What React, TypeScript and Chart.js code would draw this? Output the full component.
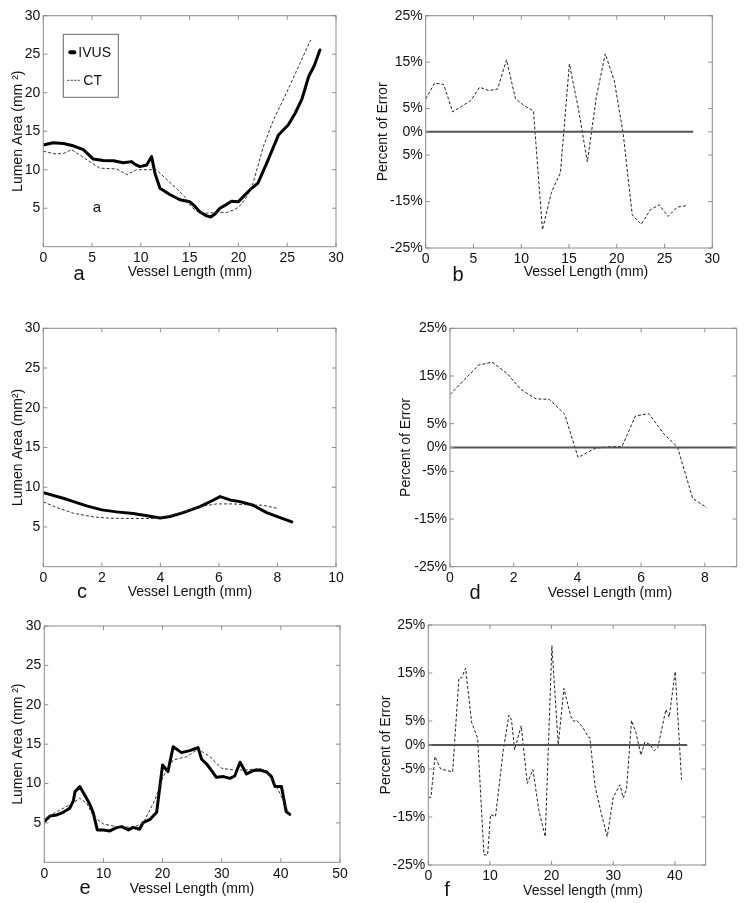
import React, { useEffect, useRef } from "react";
import { Chart, registerables } from "chart.js";
Chart.register(...registerables);

const FONT = "'Liberation Sans', Arial, sans-serif";

// ---------- Panel a: lumen area (mm^2) vs vessel length (mm) ----------
const aIvusX = [0, 1, 2.05, 3.07, 4.1, 5.1, 6.15, 7.2, 8.2, 9.05, 9.4, 9.9, 10.6, 11.1, 11.45, 11.96, 13, 14, 15, 15.5, 16.06, 16.74, 17.15, 17.6, 18.1, 18.8, 19.3, 20, 20.5, 21.2, 22, 22.9, 24.1, 25.1, 25.8, 26.5, 27.2, 27.8, 28.35];
const aIvusY = [13.2, 13.5, 13.4, 13.1, 12.6, 11.4, 11.2, 11.15, 10.9, 11.05, 10.7, 10.4, 10.6, 11.7, 9.5, 7.6, 6.75, 6.1, 5.85, 5.3, 4.5, 4.0, 3.85, 4.25, 5.0, 5.5, 5.9, 5.85, 6.5, 7.4, 8.25, 10.85, 14.5, 15.8, 17.3, 19.15, 22.1, 23.6, 25.55];
const aCtX = [0, 1.2, 2.05, 2.9, 3.76, 4.8, 5.8, 7.5, 8.6, 9.56, 10.6, 11.6, 12.5, 13.7, 14.5, 15.2, 15.9, 16.7, 17.8, 18.8, 19.6, 20.15, 20.85, 21.5, 22.55, 23.6, 24.9, 26.3, 27.4];
const aCtY = [12.4, 12.05, 12.1, 12.6, 11.9, 11.0, 10.2, 10.1, 9.35, 10.0, 10.0, 10.0, 8.9, 7.5, 6.5, 5.15, 4.45, 4.35, 4.45, 4.45, 4.8, 5.3, 6.45, 8.25, 13.0, 16.5, 19.9, 23.8, 26.85];

// ---------- Panel b: percent of error ----------
const bX = [0, 0.94, 1.88, 2.82, 3.76, 4.7, 5.64, 6.58, 7.52, 8.46, 9.4, 10.34, 11.28, 12.22, 13.16, 14.1, 15.04, 15.98, 16.92, 17.86, 18.8, 19.74, 20.68, 21.62, 22.56, 23.5, 24.44, 25.38, 26.32, 27.26];
const bY = [7.1, 10.5, 10.2, 4.3, 5.5, 6.7, 9.6, 8.9, 9.2, 15.5, 7.1, 5.6, 4.5, -21.1, -13, -8.8, 14.6, 5, -6.5, 7.5, 16.8, 11, -0.5, -17.9, -19.9, -16.8, -15.7, -18.2, -16.2, -15.9];
const bZeroX = [0, 28];

// ---------- Panel c ----------
const cIvusX = [0, 0.8, 1.48, 2.0, 2.5, 3.07, 3.59, 3.99, 4.33, 4.78, 5.35, 5.8, 6.04, 6.38, 6.72, 7.17, 7.63, 8.09, 8.49];
const cIvusY = [9.32, 8.48, 7.65, 7.15, 6.9, 6.69, 6.39, 6.14, 6.31, 6.81, 7.56, 8.36, 8.82, 8.4, 8.19, 7.73, 6.81, 6.18, 5.64];
const cCtX = [0, 0.46, 1.03, 1.71, 2.28, 3.07, 3.76, 4.2, 4.78, 5.35, 5.92, 6.49, 7.06, 7.52, 8.03];
const cCtY = [8.15, 7.44, 6.73, 6.27, 6.1, 6.06, 6.06, 6.31, 6.9, 7.56, 7.9, 7.9, 7.77, 7.73, 7.31];

// ---------- Panel d ----------
const dX = [0, 0.45, 0.9, 1.32, 1.8, 2.22, 2.7, 3.12, 3.6, 4.02, 4.55, 4.97, 5.4, 5.82, 6.24, 6.72, 7.14, 7.62, 8.06];
const dY = [11.1, 14.2, 17.3, 17.9, 15.5, 12.2, 10.2, 10.1, 7.0, -2.1, -0.2, 0.15, 0.2, 6.6, 7.1, 2.8, 0.1, -10.7, -12.6];
const dZeroX = [0, 9];

// ---------- Panel e ----------
const eIvusX = [0, 0.96, 2.1, 3.2, 4.3, 4.9, 5.2, 6.0, 6.9, 7.7, 8.3, 8.96, 10, 11.1, 12.2, 13.1, 14.2, 15, 16.1, 16.7, 17.9, 19, 20, 20.9, 21.8, 23.2, 24.6, 26.0, 26.6, 27.45, 28, 29.1, 30.3, 31.4, 32.2, 33.1, 34.2, 35.3, 36.5, 37.6, 38.4, 39, 40.1, 40.9, 41.5];
const eIvusY = [5.16, 5.88, 6.01, 6.35, 6.86, 7.79, 8.97, 9.61, 8.46, 7.36, 6.22, 4.11, 4.11, 3.98, 4.4, 4.53, 4.11, 4.44, 4.19, 5.04, 5.46, 6.35, 12.36, 11.51, 14.68, 13.92, 14.18, 14.56, 13.08, 12.48, 11.93, 10.79, 10.88, 10.66, 10.96, 12.7, 11.21, 11.64, 11.72, 11.47, 10.88, 9.61, 9.61, 6.43, 6.09];
const eCtX = [0, 2.1, 4.3, 6, 7.2, 8.3, 10, 12.2, 15, 16.7, 18.7, 20.1, 21.8, 24.1, 26, 28, 30, 32, 34.2, 36.5, 38.2, 39.85, 41.1];
const eCtY = [5.46, 6.43, 7.28, 8.13, 7.49, 5.8, 4.87, 4.53, 4.44, 4.95, 7.91, 10.88, 12.99, 13.42, 14.39, 13.42, 11.93, 11.72, 11.72, 11.93, 10.88, 8.76, 6.64];

// ---------- Panel f ----------
const fX = [0, 0.43, 1.08, 2.0, 3.95, 4.97, 5.41, 6.05, 7.03, 8.0, 9.03, 9.62, 10.1, 10.9, 12.16, 13.08, 13.5, 14.0, 15.08, 16.05, 16.97, 17.95, 18.97, 20.05, 21.08, 22.0, 23.08, 23.62, 24.05, 25.03, 26.0, 26.2, 27.03, 28.05, 29.03, 30.0, 31.08, 31.62, 32.16, 32.97, 33.68, 34.49, 35.14, 35.95, 36.65, 37.24, 38.54, 39.08, 40.05, 41.08];
const fY = [-10.9, -10.9, -2.4, -5.0, -5.6, 14.0, 14.0, 16.0, 4.7, 1.4, -22.9, -22.9, -14.5, -14.9, -1.2, 6.25, 5.2, -1.0, 4.0, -8.0, -5.1, -13.7, -19.1, 20.7, 0, 11.8, 6.1, 4.9, 5.2, 3.7, 1.6, 1.6, -8.5, -14.2, -19.1, -10.9, -8.3, -11.0, -9.2, 5.1, 2.6, -2.1, 0.6, 0.1, -1.2, -0.5, 7.4, 5.8, 15.3, -7.2];
const fZeroX = [0, 42];

// ---------- Tick values / labels ----------
const areaYTicks = [5, 10, 15, 20, 25, 30];
const areaYLabels = ["5", "10", "15", "20", "25", "30"];
const errYTicks = [-25, -15, -5, 0, 5, 15, 25];
const errYLabelsB = ["-25%", "-15%", "5%", "0%", "5%", "15%", "25%"];
const errYLabels = ["-25%", "-15%", "-5%", "0%", "5%", "15%", "25%"];
const aXTicks = [0, 5, 10, 15, 20, 25, 30];
const cXTicks = [0, 2, 4, 6, 8, 10];
const dXTicks = [0, 2, 4, 6, 8];
const eXTicks = [0, 10, 20, 30, 40, 50];
const fXTicks = [0, 10, 20, 30, 40];

const zip = (xs: number[], ys: number[]) => xs.map((x, i) => ({ x, y: ys[i] }));
const zeros = (xs: number[]) => xs.map((x) => ({ x, y: 0 }));

const ivusDs = (xs: number[], ys: number[]) => ({
  label: "IVUS",
  data: zip(xs, ys),
  showLine: true,
  borderColor: "#000",
  borderWidth: 3,
  pointRadius: 0,
  borderJoinStyle: "round",
  borderCapStyle: "round",
});
const ctDs = (xs: number[], ys: number[]) => ({
  label: "CT",
  data: zip(xs, ys),
  showLine: true,
  borderColor: "#333",
  borderWidth: 1,
  borderDash: [3, 2],
  pointRadius: 0,
});
const errDs = (xs: number[], ys: number[]) => ({
  label: "Percent of Error",
  data: zip(xs, ys),
  showLine: true,
  borderColor: "#222",
  borderWidth: 1,
  borderDash: [3, 2],
  pointRadius: 0,
});
const zeroDs = (xs: number[]) => ({
  label: "zero",
  data: zeros(xs),
  showLine: true,
  borderColor: "#555",
  borderWidth: 2,
  pointRadius: 0,
});

type Rect = { l: number; r: number; t: number; b: number };
type PanelDef = {
  cx: number; cy: number; cw: number; ch: number;
  plot: Rect;
  xMin: number; xMax: number; xTicks: number[];
  yMin: number; yMax: number; yTicks: number[]; yLabels: string[];
  datasets: any[];
  yTitle: string; yTitleX: number;
  xTitle: string; xTitleX: number; xTitleY: number;
  letter: string; letterX: number; letterY: number;
  legend?: boolean;
  inner?: { text: string; x: number; y: number };
};

const panels: PanelDef[] = [
  {
    cx: 0, cy: 0, cw: 360, ch: 290,
    plot: { l: 43.3, r: 336, t: 15.7, b: 246.7 },
    xMin: 0, xMax: 30, xTicks: aXTicks,
    yMin: 0, yMax: 30, yTicks: areaYTicks, yLabels: areaYLabels,
    datasets: [ctDs(aCtX, aCtY), ivusDs(aIvusX, aIvusY)],
    yTitle: "Lumen Area (mm ²)", yTitleX: 18,
    xTitle: "Vessel Length (mm)", xTitleX: 190, xTitleY: 276,
    letter: "a", letterX: 79, letterY: 280,
    legend: true,
    inner: { text: "a", x: 97, y: 212 },
  },
  {
    cx: 360, cy: 0, cw: 385, ch: 290,
    plot: { l: 425.7, r: 712.3, t: 15.7, b: 248 },
    xMin: 0, xMax: 30, xTicks: aXTicks,
    yMin: -25, yMax: 25, yTicks: errYTicks, yLabels: errYLabelsB,
    datasets: [zeroDs(bZeroX), errDs(bX, bY)],
    yTitle: "Percent of Error", yTitleX: 383,
    xTitle: "Vessel Length (mm)", xTitleX: 586, xTitleY: 276,
    letter: "b", letterX: 458, letterY: 281,
  },
  {
    cx: 0, cy: 290, cw: 360, ch: 310,
    plot: { l: 43.3, r: 336, t: 328.3, b: 566.7 },
    xMin: 0, xMax: 10, xTicks: cXTicks,
    yMin: 0, yMax: 30, yTicks: areaYTicks, yLabels: areaYLabels,
    datasets: [ctDs(cCtX, cCtY), ivusDs(cIvusX, cIvusY)],
    yTitle: "Lumen Area (mm²)", yTitleX: 18,
    xTitle: "Vessel Length (mm)", xTitleX: 190, xTitleY: 596,
    letter: "c", letterX: 82, letterY: 598,
  },
  {
    cx: 360, cy: 290, cw: 385, ch: 310,
    plot: { l: 450, r: 736.7, t: 328.3, b: 566.7 },
    xMin: 0, xMax: 9, xTicks: dXTicks,
    yMin: -25, yMax: 25, yTicks: errYTicks, yLabels: errYLabels,
    datasets: [zeroDs(dZeroX), errDs(dX, dY)],
    yTitle: "Percent of Error", yTitleX: 406,
    xTitle: "Vessel Length (mm)", xTitleX: 610, xTitleY: 597,
    letter: "d", letterX: 475, letterY: 599,
  },
  {
    cx: 0, cy: 600, cw: 360, ch: 303,
    plot: { l: 44.3, r: 340, t: 626, b: 862.3 },
    xMin: 0, xMax: 50, xTicks: eXTicks,
    yMin: 0, yMax: 30, yTicks: areaYTicks, yLabels: areaYLabels,
    datasets: [ctDs(eCtX, eCtY), ivusDs(eIvusX, eIvusY)],
    yTitle: "Lumen Area (mm ²)", yTitleX: 18,
    xTitle: "Vessel Length (mm)", xTitleX: 192, xTitleY: 893,
    letter: "e", letterX: 85, letterY: 894,
  },
  {
    cx: 360, cy: 600, cw: 385, ch: 303,
    plot: { l: 428.3, r: 705.7, t: 625, b: 865 },
    xMin: 0, xMax: 45, xTicks: fXTicks,
    yMin: -25, yMax: 25, yTicks: errYTicks, yLabels: errYLabels,
    datasets: [zeroDs(fZeroX), errDs(fX, fY)],
    yTitle: "Percent of Error", yTitleX: 386,
    xTitle: "Vessel length (mm)", xTitleX: 583, xTitleY: 895,
    letter: "f", letterX: 447, letterY: 896,
  },
];

function makeConfig(def: PanelDef): any {
  const yAxisW = def.plot.l - def.cx;
  const xAxisH = def.cy + def.ch - def.plot.b;
  const framePlugin = {
    id: "frame",
    afterDraw(chart: any) {
      const ctx = chart.ctx;
      const { left, right, top, bottom } = chart.chartArea;
      const xs = chart.scales.x;
      const ys = chart.scales.y;
      ctx.save();
      // axes box
      ctx.strokeStyle = "#8c8c8c";
      ctx.lineWidth = 1;
      ctx.setLineDash([]);
      ctx.strokeRect(left, top, right - left, bottom - top);
      // inward ticks
      const tl = 4;
      ctx.beginPath();
      for (const v of def.xTicks) {
        const px = xs.getPixelForValue(v);
        ctx.moveTo(px, bottom); ctx.lineTo(px, bottom - tl);
        ctx.moveTo(px, top); ctx.lineTo(px, top + tl);
      }
      for (const v of def.yTicks) {
        const py = ys.getPixelForValue(v);
        ctx.moveTo(left, py); ctx.lineTo(left + tl, py);
        ctx.moveTo(right, py); ctx.lineTo(right - tl, py);
      }
      ctx.stroke();

      ctx.fillStyle = "#111";
      // x title
      ctx.font = `14px ${FONT}`;
      ctx.textAlign = "center";
      ctx.textBaseline = "alphabetic";
      ctx.fillText(def.xTitle, def.xTitleX - def.cx, def.xTitleY - def.cy);
      // panel letter
      ctx.font = `20px ${FONT}`;
      ctx.fillText(def.letter, def.letterX - def.cx, def.letterY - def.cy);
      // y title
      ctx.save();
      ctx.font = `14px ${FONT}`;
      ctx.translate(def.yTitleX - def.cx, (top + bottom) / 2);
      ctx.rotate(-Math.PI / 2);
      ctx.textAlign = "center";
      ctx.textBaseline = "middle";
      ctx.fillText(def.yTitle, 0, 0);
      ctx.restore();

      if (def.inner) {
        ctx.font = `15px ${FONT}`;
        ctx.textAlign = "center";
        ctx.textBaseline = "alphabetic";
        ctx.fillText(def.inner.text, def.inner.x - def.cx, def.inner.y - def.cy);
      }

      if (def.legend) {
        const bx = left + 20, by = top + 18.6, bw = 55, bh = 63;
        ctx.fillStyle = "#fff";
        ctx.fillRect(bx, by, bw, bh);
        ctx.strokeStyle = "#666";
        ctx.lineWidth = 1;
        ctx.strokeRect(bx, by, bw, bh);
        // IVUS
        ctx.strokeStyle = "#000";
        ctx.lineWidth = 4;
        ctx.lineCap = "round";
        ctx.beginPath();
        ctx.moveTo(bx + 7, by + 18); ctx.lineTo(bx + 11, by + 18);
        ctx.stroke();
        // CT
        ctx.lineCap = "butt";
        ctx.lineWidth = 1;
        ctx.strokeStyle = "#333";
        ctx.setLineDash([2, 1.5]);
        ctx.beginPath();
        ctx.moveTo(bx + 4, by + 46); ctx.lineTo(bx + 17, by + 46);
        ctx.stroke();
        ctx.setLineDash([]);
        ctx.fillStyle = "#111";
        ctx.font = `14px ${FONT}`;
        ctx.textAlign = "left";
        ctx.textBaseline = "alphabetic";
        ctx.fillText("IVUS", bx + 15, by + 23);
        ctx.fillText("CT", bx + 20, by + 51);
      }
      ctx.restore();
    },
  };

  return {
    type: "scatter",
    data: { datasets: def.datasets },
    options: {
      responsive: false,
      animation: false,
      devicePixelRatio: 1,
      layout: {
        padding: { left: 0, top: def.plot.t - def.cy, right: def.cx + def.cw - def.plot.r, bottom: 0 },
      },
      plugins: { legend: { display: false }, tooltip: { enabled: false } },
      elements: { line: { tension: 0 } },
      scales: {
        x: {
          type: "linear",
          min: def.xMin,
          max: def.xMax,
          afterBuildTicks: (s: any) => { s.ticks = def.xTicks.map((v) => ({ value: v })); },
          afterFit: (s: any) => { s.height = xAxisH; },
          grid: { display: false, drawTicks: false },
          border: { display: false },
          ticks: {
            autoSkip: false, maxRotation: 0, padding: 3, color: "#111",
            font: { family: FONT, size: 14 },
            callback: (v: any) => String(v),
          },
        },
        y: {
          type: "linear",
          min: def.yMin,
          max: def.yMax,
          afterBuildTicks: (s: any) => { s.ticks = def.yTicks.map((v) => ({ value: v })); },
          afterFit: (s: any) => { s.width = yAxisW; },
          grid: { display: false, drawTicks: false },
          border: { display: false },
          ticks: {
            autoSkip: false, padding: 3, color: "#111",
            font: { family: FONT, size: 14 },
            callback: (_v: any, i: number) => def.yLabels[i],
          },
        },
      },
    },
    plugins: [framePlugin],
  };
}

function Panel({ def }: { def: PanelDef }) {
  const ref = useRef<HTMLCanvasElement>(null);
  useEffect(() => {
    const c = ref.current;
    if (!c) return;
    const chart = new Chart(c, makeConfig(def));
    return () => chart.destroy();
  }, [def]);
  return (
    <canvas
      ref={ref}
      width={def.cw}
      height={def.ch}
      style={{ position: "absolute", left: def.cx, top: def.cy, width: def.cw, height: def.ch }}
    />
  );
}

export default function App() {
  return (
    <div style={{ position: "absolute", left: 0, top: 0, width: 745, height: 903, background: "#fff", overflow: "hidden" }}>
      {panels.map((p, i) => (
        <Panel key={i} def={p} />
      ))}
    </div>
  );
}
